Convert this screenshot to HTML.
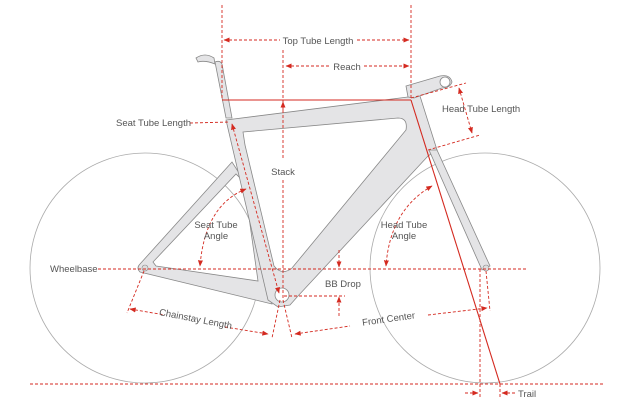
<!DOCTYPE html>
<html><head><meta charset="utf-8"><style>
html,body{margin:0;padding:0;background:#fff;}
svg{display:block;}
text{font-family:"Liberation Sans",sans-serif;font-size:9.5px;fill:#555;}
</style></head><body>
<svg width="632" height="410" viewBox="0 0 632 410" xmlns="http://www.w3.org/2000/svg">
<defs>
<marker id="a" viewBox="0 0 10 10" refX="9" refY="5" markerWidth="7" markerHeight="7" orient="auto-start-reverse"><path d="M0,1 L10,5 L0,9 z" fill="#d42a20"/></marker>
</defs>
<g fill="none" stroke="#aaa" stroke-width="0.8">
<circle cx="145" cy="268" r="115"/>
<circle cx="485" cy="268" r="115"/>
</g>
<g fill="#e4e4e6" stroke="#888" stroke-width="0.8" fill-rule="evenodd">
<path d="M140,264 L232,162 L250,190 L272,304 L140,272 Q136,268 140,264 Z M153,262 L236,174 L244,182 L258,281 L156,266 Z"/>
<path d="M226,120 L408,97 L420,96 L437,150 L428,156 L298,296 L290,305 L278,307 L268,300 Z M243,132 L398,118 Q408,118 406,130 L292,268 Q282,276 274,266 L245,145 Z"/>
<path d="M429,150 L437,150 L490,266 L482,270 Z"/>
<path d="M215,62 Q220,60 222,64 L232,118 L226,118 Z"/>
<path d="M196,58 Q205,52 214,58 L215,64 Q205,60 198,62 Z"/>
<path d="M406,86 L440,76 Q450,74 452,82 Q450,88 442,88 L414,98 L408,97 Z"/>
</g>
<circle cx="445" cy="82" r="5" fill="#fff" stroke="#888" stroke-width="0.8"/>
<circle cx="282" cy="295" r="7" fill="#fff" stroke="#888" stroke-width="0.8"/>
<circle cx="145" cy="268" r="3" fill="#ddd" stroke="#888" stroke-width="0.6"/>
<circle cx="486" cy="268" r="3" fill="#ddd" stroke="#888" stroke-width="0.6"/>
<g stroke="#d42a20" stroke-width="1.1" fill="none">
<line x1="222" y1="100" x2="411" y2="100"/>
<line x1="411" y1="100" x2="500" y2="384"/>
</g>
<g stroke="#d42a20" stroke-width="0.9" fill="none" stroke-dasharray="3,2">
<line x1="222" y1="5" x2="222" y2="100"/>
<line x1="411" y1="5" x2="411" y2="100"/>
<line x1="224" y1="40" x2="280" y2="40" marker-start="url(#a)"/>
<line x1="357" y1="40" x2="409" y2="40" marker-end="url(#a)"/>
<line x1="286" y1="66" x2="330" y2="66" marker-start="url(#a)"/>
<line x1="364" y1="66" x2="409" y2="66" marker-end="url(#a)"/>
<line x1="283" y1="50" x2="283" y2="160"/>
<line x1="283" y1="102" x2="283" y2="110" marker-start="url(#a)"/>
<line x1="283" y1="180" x2="283" y2="300"/>
<line x1="190" y1="123" x2="230" y2="122"/>
<line x1="232" y1="124" x2="279" y2="293" marker-start="url(#a)" marker-end="url(#a)"/>
<line x1="411" y1="98" x2="466" y2="83"/>
<line x1="428" y1="150" x2="480" y2="135"/>
<line x1="459" y1="88" x2="472" y2="133" marker-start="url(#a)" marker-end="url(#a)"/>
<path d="M246,189 Q205,205 200,266" marker-start="url(#a)" marker-end="url(#a)"/>
<path d="M432,186 Q390,210 386,266" marker-start="url(#a)" marker-end="url(#a)"/>
<line x1="98" y1="269" x2="528" y2="269"/>
<line x1="30" y1="384" x2="605" y2="384"/>
<line x1="339" y1="250" x2="339" y2="267" marker-end="url(#a)"/>
<line x1="339" y1="316" x2="339" y2="297" marker-end="url(#a)"/>
<line x1="284" y1="296" x2="345" y2="296"/>
<line x1="144" y1="271" x2="127" y2="313"/>
<line x1="280" y1="300" x2="272" y2="338"/>
<line x1="283" y1="300" x2="292" y2="338"/>
<line x1="486" y1="271" x2="490" y2="311"/>
<line x1="130" y1="309" x2="165" y2="315" marker-start="url(#a)"/>
<line x1="225" y1="327" x2="268" y2="334" marker-end="url(#a)"/>
<line x1="295" y1="334" x2="350" y2="326" marker-start="url(#a)"/>
<line x1="428" y1="315" x2="487" y2="308" marker-end="url(#a)"/>
<line x1="480" y1="269" x2="480" y2="398"/>
<line x1="500" y1="384" x2="500" y2="398"/>
<line x1="465" y1="393" x2="478" y2="393" marker-end="url(#a)"/>
<line x1="515" y1="393" x2="502" y2="393" marker-end="url(#a)"/>
</g>
<text x="318" y="44" text-anchor="middle">Top Tube Length</text>
<text x="347" y="70" text-anchor="middle">Reach</text>
<text x="283" y="175" text-anchor="middle">Stack</text>
<text x="116" y="126">Seat Tube Length</text>
<text x="442" y="112">Head Tube Length</text>
<text x="216" y="228" text-anchor="middle">Seat Tube</text>
<text x="216" y="239" text-anchor="middle">Angle</text>
<text x="404" y="228" text-anchor="middle">Head Tube</text>
<text x="404" y="239" text-anchor="middle">Angle</text>
<text x="50" y="272">Wheelbase</text>
<text x="325" y="287">BB Drop</text>
<text x="195" y="322" text-anchor="middle" transform="rotate(11 195 322)">Chainstay Length</text>
<text x="389" y="322" text-anchor="middle" transform="rotate(-8 389 322)">Front Center</text>
<text x="518" y="397">Trail</text>
</svg>
</body></html>
